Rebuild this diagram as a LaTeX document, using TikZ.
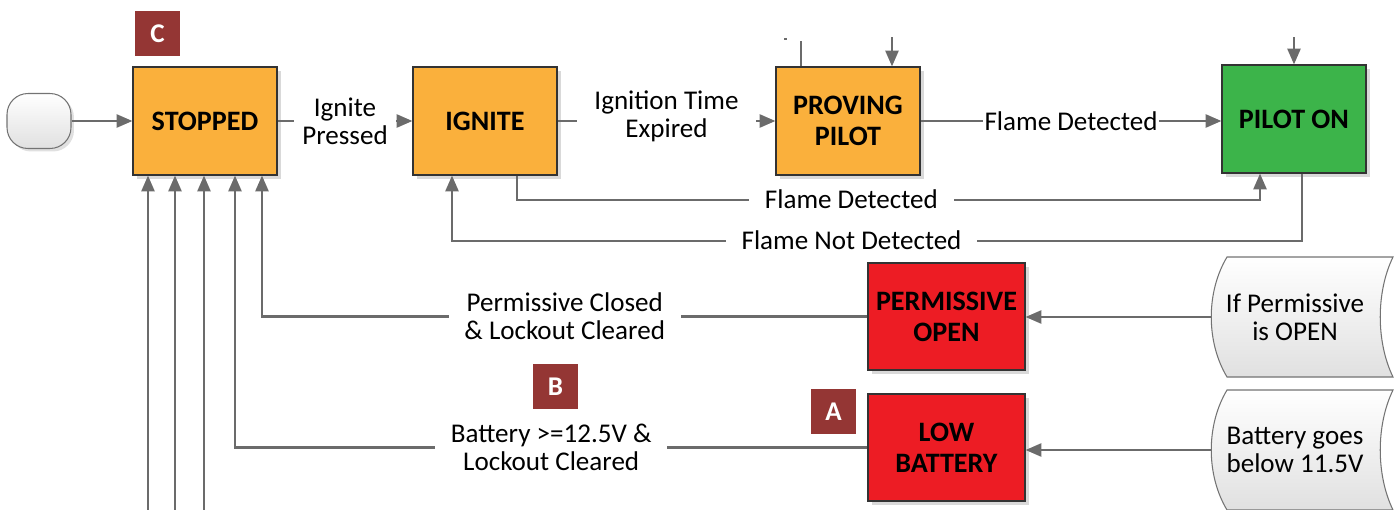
\documentclass[tikz,border=0pt]{standalone}
\usepackage{fontspec}
\setmainfont{Carlito}
\usetikzlibrary{arrows.meta,shadows}
\definecolor{boxorange}{HTML}{FAB03C}
\definecolor{boxgreen}{HTML}{3CB44A}
\definecolor{boxred}{HTML}{ED1C24}
\definecolor{badgered}{HTML}{943634}
\definecolor{linegray}{HTML}{6B6B6B}

\begin{document}
\begin{tikzpicture}[x=0.02cm, y=-0.02cm,
        font=\fontsize{15.4}{15.9}\selectfont,
        state/.style={draw=black!80, line width=0.7pt, minimum width=2.88cm, minimum height=2.16cm,
            align=center, font=\fontsize{16}{17.6}\selectfont\bfseries,
            drop shadow={shadow xshift=0.08cm, shadow yshift=-0.08cm, fill=black!15, opacity=1}},
        badge/.style={fill=badgered, text=white, minimum size=0.9cm, inner sep=0pt,
            font=\fontsize{15.4}{15.9}\selectfont\bfseries},
        arr/.style={draw=linegray, line width=1.2pt, -{Triangle[length=9pt,width=7.5pt]}},
        lbl/.style={fill=white, align=center, inner xsep=9pt, inner ysep=1pt},
        docshape/.style={draw=black!55, line width=0.6pt, top color=white, bottom color=black!12}]
        \useasboundingbox (0,0) rectangle (1400,510);

        \node[draw=black!55, line width=0.6pt, rounded corners=0.42cm, minimum width=1.28cm, minimum height=1.1cm,
            top color=white, bottom color=black!12,
            drop shadow={shadow xshift=0.06cm, shadow yshift=-0.06cm, fill=black!12, opacity=1}] (start) at (39,121) {};
        \node[state, fill=boxorange] (stopped) at (205,121) {STOPPED};
        \node[state, fill=boxorange] (ignite) at (485,121) {IGNITE};
        \node[state, fill=boxorange] (proving) at (848,121) {PROVING\\PILOT};
        \node[state, fill=boxgreen] (piloton) at (1294,119) {PILOT ON};
        \node[state, fill=boxred, minimum width=3.14cm, minimum height=2.14cm] (permopen) at (946.5,316.5) {PERMISSIVE\\OPEN};
        \node[state, fill=boxred, minimum width=3.14cm, minimum height=2.14cm] (lowbatt) at (946.5,447.5) {LOW\\BATTERY};

        \node[badge] (badgec) at (157.5,33.5) {C};
        \node[badge] (badgeb) at (555.5,386.5) {B};
        \node[badge] (badgea) at (833.5,411.5) {A};

        \foreach \y/\n/\t in {317/ifperm/{If Permissive\\is OPEN}, 450/batgoes/{Battery goes\\below 11.5V}} {
            \draw[docshape] (1227,\y-60) .. controls (1206,\y-25) and (1206,\y+25) .. (1227,\y+60)
                -- (1393,\y+60) .. controls (1376,\y+25) and (1376,\y-25) .. (1393,\y-60) -- cycle;
            \node[align=center, minimum width=3.36cm] (\n) at (1295,\y) {\t};
        }

        \draw[arr] (start) -- (stopped);
        \draw[arr] (stopped) -- node[lbl, inner xsep=5pt] {Ignite\\Pressed} (ignite);
        \draw[arr] (ignite) -- node[lbl, inner xsep=10pt, yshift=0.1cm] {Ignition Time\\Expired} (proving);
        \draw[arr] (proving) -- node[lbl, inner xsep=1pt] {Flame Detected} (proving -| piloton.west);

        \draw[linegray, line width=1.2pt] ([xshift=-0.94cm]proving.north) -- ++(0,-25);
        \draw[linegray, line width=1pt] (784,39) -- (787,39);
        \draw[arr] ([xshift=0.88cm]proving.north) ++(0,-29) -- ++(0,29);
        \draw[arr] (piloton.north) ++(0,-27) -- ++(0,27);

        \draw[arr] ([xshift=0.64cm]ignite.south) -- ++(0,24) -| node[lbl, pos=0.225] {Flame Detected} ([xshift=-0.68cm]piloton.south);
        \draw[arr] ([xshift=0.16cm]piloton.south) -- ++(0,67) -| node[lbl, pos=0.265] {Flame Not Detected} ([xshift=-0.66cm]ignite.south);

        \foreach \dx in {-57,-30,-1}
            \draw[arr] (stopped.south) ++(\dx,335) -- ++(0,-335);
        \draw[arr] (permopen.west) -| node[lbl, pos=0.25] {Permissive Closed\\\& Lockout Cleared} ([xshift=1.14cm]stopped.south);
        \draw[arr] (lowbatt.west) -| node[lbl, pos=0.25] {Battery >=12.5V \&\\Lockout Cleared} ([xshift=0.6cm]stopped.south);

        \draw[arr] (ifperm.west) -- (ifperm.west -| permopen.east);
        \draw[arr] (batgoes.west) -- (batgoes.west -| lowbatt.east);
\end{tikzpicture}
\end{document}
